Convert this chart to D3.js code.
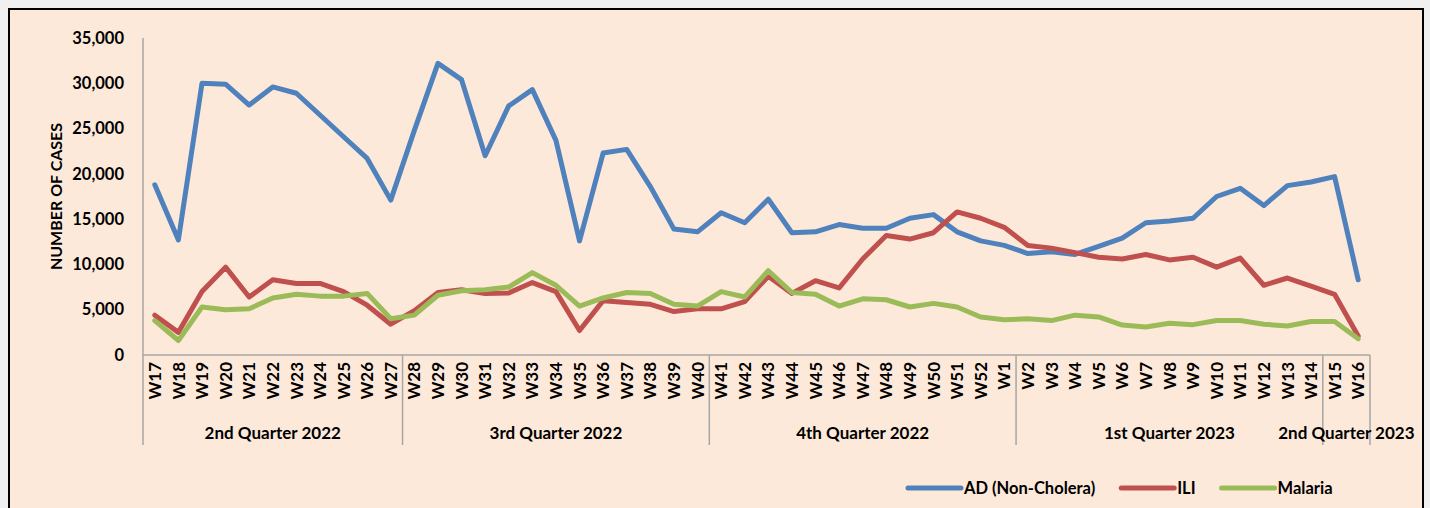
<!DOCTYPE html>
<html>
<head>
<meta charset="utf-8">
<script src="https://cdn.jsdelivr.net/npm/d3@7"></script>
<style>
  body { margin: 0; background: #f0f0f0; }
  svg text { font-family: Lato, "Open Sans", sans-serif; font-weight: bold; fill: #000; }
</style>
</head>
<body>
<div id="chart"></div>
<script>
const weeks = ['W17','W18','W19','W20','W21','W22','W23','W24','W25','W26','W27',
  'W28','W29','W30','W31','W32','W33','W34','W35','W36','W37','W38','W39','W40',
  'W41','W42','W43','W44','W45','W46','W47','W48','W49','W50','W51','W52','W1',
  'W2','W3','W4','W5','W6','W7','W8','W9','W10','W11','W12','W13','W14',
  'W15','W16']

const quarters = ['2nd Quarter 2022', '3rd Quarter 2022', '4th Quarter 2022', '1st Quarter 2023', '2nd Quarter 2023']
const quarterStart = ['W17', 'W28', 'W41', 'W2', 'W15']
const quarterEnd = ['W27', 'W40', 'W1', 'W14', 'W16']

const adCases = [18800, 12700, 30000, 29900, 27600, 29600, 28900, 26500, 24100, 21700, 17100,
  24800, 32200, 30400, 22000, 27500, 29300, 23700, 12600, 22300, 22700, 18600, 13900, 13600,
  15700, 14600, 17200, 13500, 13600, 14400, 14000, 14000, 15100, 15500, 13600, 12600, 12100,
  11200, 11400, 11100, 12000, 12900, 14600, 14800, 15100, 17500, 18400, 16500, 18700, 19100,
  19700, 8300]

const iliCases = [4400, 2500, 7000, 9700, 6400, 8300, 7900, 7900, 7000, 5500, 3400,
  4900, 6900, 7200, 6800, 6850, 8000, 7000, 2700, 6000, 5800, 5600, 4800, 5100,
  5100, 5900, 8700, 6800, 8200, 7400, 10600, 13200, 12800, 13500, 15800, 15100, 14100,
  12100, 11800, 11300, 10800, 10600, 11100, 10500, 10800, 9700, 10700, 7700, 8500, 7600,
  6700, 2100]

const malariaCases = [3800, 1600, 5300, 5000, 5100, 6300, 6700, 6500, 6500, 6800, 4000,
  4400, 6600, 7100, 7200, 7500, 9100, 7700, 5400, 6300, 6900, 6800, 5600, 5400,
  7000, 6400, 9300, 6900, 6700, 5400, 6200, 6100, 5300, 5700, 5300, 4200, 3900,
  4000, 3800, 4400, 4200, 3300, 3100, 3500, 3350, 3800, 3800, 3400, 3200, 3700,
  3700, 1800]

const seriesNames = ['AD (Non-Cholera)', 'ILI', 'Malaria']
const seriesColors = ['#4f81bd', '#c0504d', '#9bbb59']
const yTicks = [0, 5000, 10000, 15000, 20000, 25000, 30000, 35000]

const width = 1430
const height = 508
const margin = {top: 38, left: 143, right: 60, bottom: 153}
const axisColor = '#a6a6a6'

const series = [adCases, iliCases, malariaCases].map((values, i) => ({
  name: seriesNames[i],
  color: seriesColors[i],
  values: values.map((v, j) => ({week: weeks[j], value: v}))
}))

const svg = d3.select('#chart').append('svg')
  .attr('width', width)
  .attr('height', height)

svg.append('rect')
  .attr('x', 9)
  .attr('y', 9)
  .attr('width', 1414)
  .attr('height', 520)
  .attr('fill', '#fde9d9')
  .attr('stroke', '#000')
  .attr('stroke-width', 2)

const xScale = d3.scaleBand()
  .domain(weeks)
  .range([margin.left, width - margin.right])
  .padding(0)

const yScale = d3.scaleLinear()
  .domain([0, 35000])
  .range([height - margin.bottom, margin.top])

const xMid = w => xScale(w) + xScale.bandwidth() / 2
const y0 = yScale(0)
const groupBottom = y0 + 90

// y axis
const yAxis = svg.append('g')
  .attr('transform', `translate(${margin.left},0)`)
  .call(d3.axisLeft(yScale).tickValues(yTicks).tickFormat(d3.format(',')).tickSize(0).tickPadding(19))

yAxis.select('.domain').remove()
yAxis.selectAll('text').style('font-size', '16.5px')

svg.append('line')
  .attr('x1', margin.left).attr('x2', margin.left)
  .attr('y1', margin.top).attr('y2', groupBottom)
  .attr('stroke', axisColor).attr('stroke-width', 1.5)

svg.append('text')
  .attr('transform', `translate(62, ${(margin.top + y0) / 2}) rotate(-90)`)
  .attr('text-anchor', 'middle')
  .style('font-size', '16px')
  .text('NUMBER OF CASES')

// x axis, week labels
svg.append('line')
  .attr('x1', margin.left).attr('x2', xScale.range()[1])
  .attr('y1', y0).attr('y2', y0)
  .attr('stroke', axisColor).attr('stroke-width', 1.5)

svg.append('g').selectAll('text')
  .data(weeks)
  .join('text')
  .attr('transform', d => `translate(${xMid(d)}, ${y0 + 7}) rotate(-90)`)
  .attr('text-anchor', 'end')
  .attr('dy', '0.36em')
  .style('font-size', '17px')
  .text(d => d)

// quarter groups
const separators = quarterStart.slice(1).map(w => xScale(w)).concat([xScale.range()[1]])

svg.append('g').selectAll('line')
  .data(separators)
  .join('line')
  .attr('x1', d => d).attr('x2', d => d)
  .attr('y1', y0).attr('y2', groupBottom)
  .attr('stroke', axisColor).attr('stroke-width', 1.5)

svg.append('g').selectAll('text')
  .data(quarters)
  .join('text')
  .attr('x', (d, i) => (xScale(quarterStart[i]) + xScale(quarterEnd[i]) + xScale.bandwidth()) / 2)
  .attr('y', y0 + 84)
  .attr('text-anchor', 'middle')
  .style('font-size', '17px')
  .text(d => d)

// lines
const line = d3.line()
  .x(d => xMid(d.week))
  .y(d => yScale(d.value))

svg.append('g').selectAll('path')
  .data(series)
  .join('path')
  .attr('d', d => line(d.values))
  .attr('fill', 'none')
  .attr('stroke', d => d.color)
  .attr('stroke-width', 5)
  .attr('stroke-linejoin', 'round')
  .attr('stroke-linecap', 'round')

// legend
const legend = svg.append('g').attr('transform', `translate(908, 488)`)
let lx = 0
series.forEach(s => {
  const item = legend.append('g').attr('transform', `translate(${lx},0)`)
  item.append('line')
    .attr('x1', 0).attr('x2', 53)
    .attr('stroke', s.color).attr('stroke-width', 5)
    .attr('stroke-linecap', 'round')
  const t = item.append('text')
    .attr('x', 56)
    .attr('dy', '0.36em')
    .style('font-size', '16.5px')
    .text(s.name)
  lx += 56 + t.node().getComputedTextLength() + 26
})
</script>
</body>
</html>
